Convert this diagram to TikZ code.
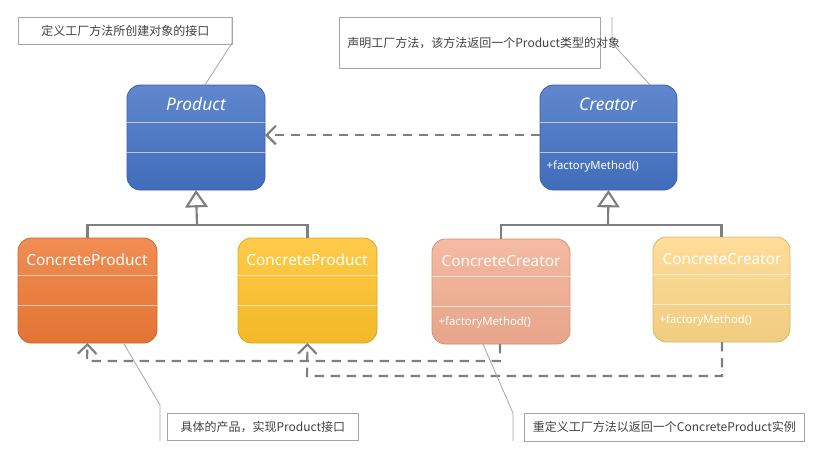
\documentclass[tikz,border=0pt]{standalone}
\usepackage{fontspec}
\setmainfont{Noto Sans CJK SC}
\newfontfamily\latinsans{Noto Sans}
\usepackage{tikz}
\usetikzlibrary{arrows.meta}
\definecolor{cblue}{HTML}{4472C4}
\definecolor{corange}{HTML}{EE7A36}
\definecolor{cyellow}{HTML}{FFC22A}
\definecolor{csalmon}{HTML}{F3AE91}
\definecolor{clight}{HTML}{FDD787}
\definecolor{cline}{HTML}{7F7F7F}
\tikzset{
  cls/.style={rounded corners=10pt, line width=0.6pt},
  divline/.style={white, opacity=0.6, line width=0.5pt},
  clsname/.style={white, font=\latinsans\fontsize{11.5}{14}\selectfont},
  meth/.style={white, anchor=west, font=\latinsans\fontsize{8.5}{11}\selectfont},
  note/.style={draw=cline!70, line width=0.6pt, anchor=north west, inner sep=6pt, align=left, font=\fontsize{9}{12}\selectfont, text=black!75},
  lead/.style={cline!70, line width=0.6pt},
  inh/.style={cline, line width=1.6pt},
  dep/.style={cline, line width=1.6pt, dash pattern=on 7pt off 5pt},
  openhead/.style={-{Straight Barb[length=7pt,width=14pt]}},
  tri/.style={-{Triangle[open,length=13pt,width=17pt,fill=white]}}
}
\newcommand{\umlbox}[6]{% name, x1, y1, x2, y2, colour
  \draw[cls, draw=#6!85!black, top color=#6!85!white, bottom color=#6!95!black] (#2,#3) rectangle (#4,#5);
  \draw[divline] (#2,#3+37) -- (#4,#3+37);
  \draw[divline] (#2,#3+67) -- (#4,#3+67);
  \coordinate (#1-n) at ({(#2+#4)/2},#3);
  \coordinate (#1-s) at ({(#2+#4)/2},#5);
}
\begin{document}
\begin{tikzpicture}[x=0.75pt, y=-0.75pt]
    \useasboundingbox (0,0) rectangle (818,451);

    \umlbox{prod}{127}{85}{265}{190}{cblue}
    \node[clsname, font=\latinsans\fontsize{13}{16}\selectfont\itshape] (prodname) at (196,104) {Product};
    \umlbox{crea}{540}{85}{677}{190}{cblue}
    \node[clsname, font=\latinsans\fontsize{13}{16}\selectfont\itshape] (creaname) at (608,104) {Creator};
    \node[meth] (creameth) at (542,167) {+factoryMethod()};

    \umlbox{cpa}{18}{238}{157}{343}{corange}
    \node[clsname] (cpaname) at (87,260) {ConcreteProduct};
    \umlbox{cpb}{238}{238}{377}{343}{cyellow}
    \node[clsname] (cpbname) at (307,260) {ConcreteProduct};
    \umlbox{cca}{432}{239}{570}{344}{csalmon}
    \node[clsname] (ccaname) at (501,261) {ConcreteCreator};
    \node[meth] (ccameth) at (434,323) {+factoryMethod()};
    \umlbox{ccb}{653}{237}{790}{342}{clight}
    \node[clsname] (ccbname) at (722,259) {ConcreteCreator};
    \node[meth] (ccbmeth) at (655,321) {+factoryMethod()};

    % generalisation
    \coordinate (pj) at (197,225);
    \draw[inh] (cpa-n) |- (pj) -| (cpb-n);
    \draw[inh, tri] (pj) -- (prod-s);
    \coordinate (cj) at (608,225);
    \draw[inh] (cca-n) |- (cj) -| (ccb-n);
    \draw[inh, tri] (cj) -- (crea-s);

    % dependencies
    \coordinate (creal) at (540,135);
    \coordinate (prodr) at (265,135);
    \draw[dep, openhead] (creal) -- (prodr);
    \draw[dep, openhead] (500,344) |- (87,361) -- (cpa-s);
    \draw[dep, openhead] (722,342) |- (307,376) -- (cpb-s);

    % notes
    \node[note, minimum width=214*0.75pt, minimum height=26*0.75pt] (n1) at (18,17) {定义工厂方法所创建对象的接口};
    \draw[lead] (232,17) -- (232,43) -- (205,85);
    \node[note, text width=245*0.75pt, minimum height=51*0.75pt] (n2) at (339,17) {声明工厂方法，该方法返回一个Product类型的对象};
    \draw[lead] (612,17) -- (612,43) -- (650,85);
    \node[note, minimum width=191*0.75pt, minimum height=27*0.75pt] (n3) at (167,413) {具体的产品，实现Product接口};
    \draw[lead] (124,344) -- (160,405) -- (160,441);
    \node[note, minimum width=280*0.75pt, minimum height=28*0.75pt] (n4) at (524,413) {重定义工厂方法以返回一个ConcreteProduct实例};
    \draw[lead] (483,344) -- (513,413) -- (513,441);
\end{tikzpicture}
\end{document}
